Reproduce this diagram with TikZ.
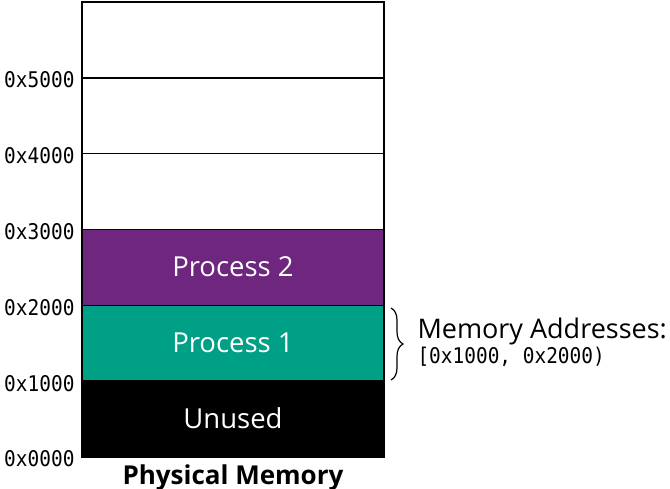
\documentclass[tikz,border=0pt]{standalone}
\usepackage{fontspec}
\setmainfont{Open Sans}
\setmonofont[FakeStretch=0.9]{DejaVu Sans Mono}
\usetikzlibrary{decorations.pathreplacing}
\definecolor{proconecol}{RGB}{0,160,135}
\definecolor{proctwocol}{RGB}{110,38,126}

\begin{document}
\begin{tikzpicture}[x=1pt,y=-1pt,
    addr/.style={anchor=east,font=\fontsize{21.6}{24}\selectfont\ttfamily},
    region/.style={text=white,font=\fontsize{27.5}{30}\selectfont}]
         \useasboundingbox (0,0) rectangle (670,489);
         % blocks
         \fill[black] (82,381.2) rectangle (384,457);
         \fill[proconecol] (82,305.3) rectangle (384,381.2);
         \fill[proctwocol] (82,229.5) rectangle (384,305.3);
         \node[region] (unused) at (233,418) {Unused};
         \node[region] (procone) at (233,343) {Process 1};
         \node[region] (proctwo) at (233,267) {Process 2};
         % frame and address lines
         \draw[line width=1.5pt] (82,2) rectangle (384,457);
         \foreach \i/\lab in {0/0x0000,1/0x1000,2/0x2000,3/0x3000,4/0x4000,5/0x5000} {
            \draw[line width=1.5pt] (82,457-75.83*\i) -- (384,457-75.83*\i);
            \node[addr] (addr\i) at (78,459-75.83*\i) {\lab};
         }
         % range of process 1
         \coordinate (bracetop) at (391,308);
         \coordinate (bracebot) at (391,380);
         \draw[line width=1.2pt,decorate,decoration={brace,amplitude=12pt}] (bracetop) -- (bracebot);
         \node[anchor=base west,font=\fontsize{27}{30}\selectfont] (memaddr) at (414,338) {Memory Addresses:};
         \node[anchor=base west,font=\fontsize{21.6}{24}\selectfont\ttfamily] (range) at (414,363) {[0x1000, 0x2000)};
         \node[anchor=base,font=\fontsize{26}{30}\selectfont\bfseries] (title) at (233,484) {Physical Memory};
\end{tikzpicture}
\end{document}
